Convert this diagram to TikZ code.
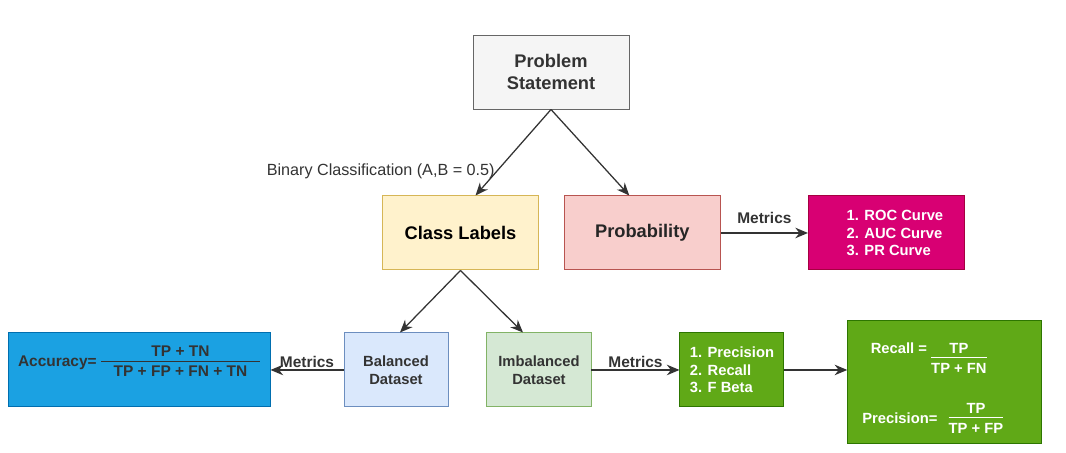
\documentclass[tikz,border=0pt]{standalone}
\usepackage{fontspec}
\setmainfont{Liberation Sans}
\usetikzlibrary{positioning,arrows.meta}

\definecolor{psfill}{HTML}{F5F5F5}
\definecolor{psline}{HTML}{666666}
\definecolor{ylwfill}{HTML}{FFF2CC}
\definecolor{ylwline}{HTML}{D6B656}
\definecolor{redfill}{HTML}{F8CECC}
\definecolor{redline}{HTML}{B85450}
\definecolor{magfill}{HTML}{D80073}
\definecolor{magline}{HTML}{A50040}
\definecolor{bluefill}{HTML}{1BA1E2}
\definecolor{blueline}{HTML}{006EAF}
\definecolor{ltblfill}{HTML}{DAE8FC}
\definecolor{ltblline}{HTML}{6C8EBF}
\definecolor{ltgrfill}{HTML}{D5E8D4}
\definecolor{ltgrline}{HTML}{82B366}
\definecolor{grfill}{HTML}{60A917}
\definecolor{grline}{HTML}{2D7600}
\definecolor{txt}{HTML}{333333}

\newcommand{\fracbox}[2]{\begin{tabular}{@{}c@{}}#1\\[-1pt]\hline\rule{0pt}{11pt}#2\end{tabular}}

\begin{document}
\begin{tikzpicture}[
    box/.style={draw, line width=0.7pt, minimum width=3.9cm, minimum height=1.85cm,
        align=center, text=txt, font=\fontsize{13}{15.5}\selectfont\bfseries},
    small/.style={minimum width=2.6cm, font=\fontsize{10.5}{13}\selectfont\bfseries},
    grey/.style={fill=psfill, draw=psline},
    ylw/.style={fill=ylwfill, draw=ylwline, text=black},
    rose/.style={fill=redfill, draw=redline, text=black!85},
    mag/.style={fill=magfill, draw=magline, text=white, align=left,
        font=\fontsize{10.5}{12.5}\selectfont\bfseries},
    blu/.style={fill=bluefill, draw=blueline},
    ltbl/.style={fill=ltblfill, draw=ltblline},
    ltgr/.style={fill=ltgrfill, draw=ltgrline},
    grn/.style={fill=grfill, draw=grline, text=white, align=left,
        font=\fontsize{10.5}{12.5}\selectfont\bfseries},
    arr/.style={-{Stealth[length=9pt,width=7.5pt]}, line width=0.9pt, draw=txt},
    lbl/.style={font=\fontsize{11}{13}\selectfont\bfseries, text=txt}
]
\useasboundingbox (0,0) rectangle (26.65,-11.325);

% Top
\node[box, grey] (problem) at (13.775,-1.8) {Problem\\Statement};

% Second row
\node[box, ylw, below=2.15cm of problem, xshift=-2.2625cm] (classlbl) {Class Labels};
\node[box, rose, right=0.62cm of classlbl] (prob) {Probability};
\node[box, mag, right=2.18cm of prob] (roc) {\hspace*{12pt}1. ROC Curve\\\hspace*{12pt}2. AUC Curve\\\hspace*{12pt}3. PR Curve};

% Third row
\node[box, small, ltbl, below=1.55cm of classlbl, xshift=-1.6125cm] (bal) {Balanced\\Dataset};
\node[box, small, ltgr, right=0.95cm of bal] (imbal) {Imbalanced\\Dataset};
\node[box, blu, minimum width=6.55cm, font=\fontsize{11}{13}\selectfont\bfseries,
    left=1.825cm of bal] (acc)
    {Accuracy= {\setlength{\tabcolsep}{9pt}\begin{tabular}{c}TP + TN\\[-1pt]\hline\rule{0pt}{11pt}TP + FP + FN + TN\end{tabular}}\rule[-21pt]{0pt}{1pt}};
\node[box, small, grn, right=2.2cm of imbal] (prl) {1. Precision\\2. Recall\\3. F Beta};
\node[box, grn, minimum width=4.85cm, minimum height=3.05cm,
    right=1.57cm of prl, yshift=-0.3cm] (formulas)
    {\begin{tabular}{@{}l@{\hspace{17pt}}}
     \rule{0pt}{20pt}\hspace{6pt}Recall =\hspace{3pt}\begin{tabular}[t]{@{}c@{}}TP\\[-1pt]\hline\rule{0pt}{11pt}TP + FN\end{tabular}\\[30pt]
     Precision=\hspace{8pt}\fracbox{TP}{TP + FP}
     \end{tabular}};

% Links
\draw[arr] (problem.south) -- ([xshift=0.375cm]classlbl.north)
    node[pos=0.72, left, inner sep=1pt, font=\fontsize{11.5}{13}\selectfont, text=txt]
    {Binary Classification (A,B = 0.5)};
\draw[arr] (problem.south) -- ([xshift=-0.325cm]prob.north);
\draw[arr] (prob) -- (roc) node[midway, above=3pt, lbl] {Metrics};
\draw[arr] (classlbl.south) -- ([xshift=0.1cm]bal.north);
\draw[arr] (classlbl.south) -- ([xshift=-0.4cm]imbal.north);
\draw[arr] (bal) -- (acc) node[midway, above, inner sep=1.5pt, lbl] {Metrics};
\draw[arr] (imbal) -- (prl) node[midway, above, inner sep=1.5pt, lbl] {Metrics};
\draw[arr] (prl.east) -- (prl.east -| formulas.west);

\end{tikzpicture}
\end{document}
